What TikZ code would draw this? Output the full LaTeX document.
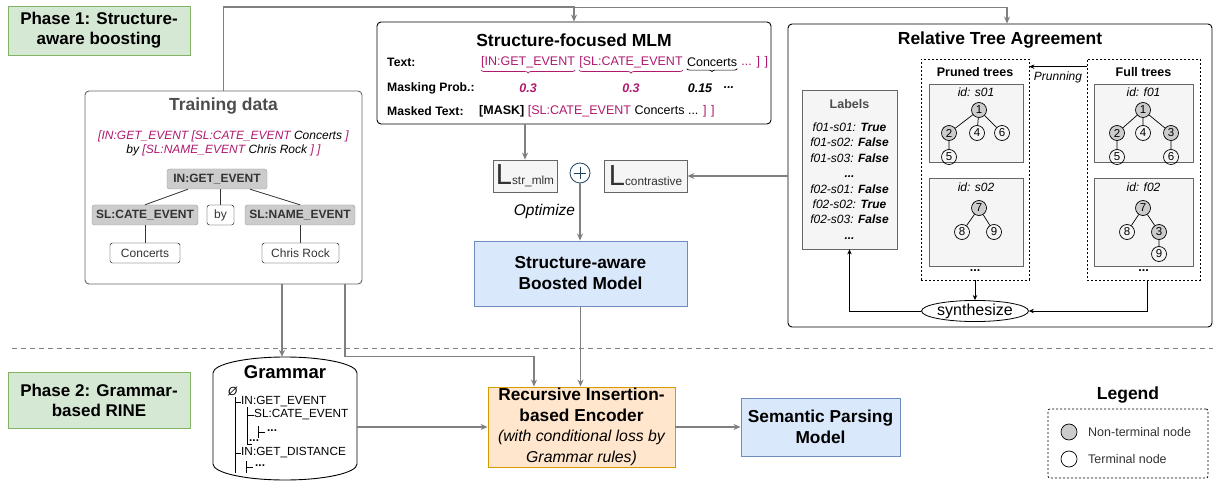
\documentclass[tikz,border=0pt]{standalone}
\usepackage{fontspec}
\setmainfont{Liberation Sans}
\usepackage{xcolor}
\usetikzlibrary{arrows.meta,positioning,shapes.geometric,decorations.pathreplacing}

\definecolor{r213g232b212}{RGB}{213,232,212}
\definecolor{r130g179b102}{RGB}{130,179,102}
\definecolor{r218g232b252}{RGB}{218,232,252}
\definecolor{r108g142b191}{RGB}{108,142,191}
\definecolor{r255g230b204}{RGB}{255,230,204}
\definecolor{r215g155b0}{RGB}{215,155,0}
\definecolor{r245g245b245}{RGB}{245,245,245}
\definecolor{r102g102b102}{RGB}{102,102,102}
\definecolor{r204g204b204}{RGB}{204,204,204}
\definecolor{r153g153b153}{RGB}{153,153,153}
\definecolor{r128g128b128}{RGB}{128,128,128}
\definecolor{r175g25b110}{RGB}{175,25,110}
\definecolor{r35g68b93}{RGB}{35,68,93}
\definecolor{r51g51b51}{RGB}{51,51,51}
\definecolor{r77g77b77}{RGB}{77,77,77}

\tikzset{
  phase/.style={draw=r130g179b102, fill=r213g232b212, line width=0.9pt, minimum width=182, minimum height=49,
    align=center, font=\fontsize{17}{20}\selectfont\bfseries},
  titlefont/.style={font=\fontsize{17.5}{20}\selectfont\bfseries},
  subtitle/.style={font=\fontsize{12.5}{14}\selectfont\bfseries},
  panel/.style={draw, rounded corners=4pt, line width=0.9pt, inner sep=0},
  greybox/.style={draw=r102g102b102, fill=r245g245b245, line width=0.8pt, inner sep=0},
  bluebox/.style={draw=r108g142b191, fill=r218g232b252, line width=0.9pt, inner sep=0, align=center,
    font=\fontsize{17.3}{21}\selectfont\bfseries},
  orangebox/.style={draw=r215g155b0, fill=r255g230b204, line width=0.9pt, inner sep=0, align=center,
    font=\fontsize{17.3}{20.5}\selectfont},
  dashbox/.style={draw, dash pattern=on 2pt off 2pt, line width=0.7pt, inner sep=0},
  tdnode/.style={draw=r153g153b153, fill=r204g204b204, rounded corners=2.5pt, minimum height=20, inner sep=2pt,
    font=\fontsize{12}{13}\selectfont\bfseries, text=r51g51b51},
  tdleaf/.style={tdnode, fill=white, draw=black, font=\fontsize{12}{13}\selectfont},
  tnode/.style={circle, draw, line width=0.7pt, minimum size=15, inner sep=0, font=\fontsize{11.5}{12}\selectfont},
  ntnode/.style={tnode, fill=r204g204b204},
  rowlabel/.style={anchor=west, inner sep=0, font=\fontsize{12.2}{14}\selectfont\bfseries},
  tok/.style={inner sep=0, font=\fontsize{12.5}{15}\selectfont},
  probval/.style={inner sep=0, font=\fontsize{12.5}{14}\selectfont\bfseries\itshape},
  idlab/.style={inner sep=0, font=\fontsize{12}{14}\selectfont\itshape},
  gramtext/.style={anchor=west, inner sep=0, font=\fontsize{11.8}{13}\selectfont},
  conn/.style={draw=r128g128b128, line width=1.2pt, -{Stealth[length=7pt,width=6pt]}},
  arr/.style={line width=0.8pt, -{Stealth[length=5pt,width=4.5pt]}},
}

\begin{document}
\begin{tikzpicture}[x=1pt,y=-1pt]
\useasboundingbox (0,0) rectangle (1213,481);

% Phase labels
\node[phase] (phaseone) at (99,30.5) {Phase 1: Structure-\\aware boosting};
\node[phase, minimum height=56] (phasetwo) at (99,400) {Phase 2: Grammar-\\based RINE};

% Drawing separator
\draw[r128g128b128, line width=1pt, dash pattern=on 5pt off 4pt] (12,348) -- (1213,348);

% Drawing box Training data
\node[panel, draw=r102g102b102, minimum width=277, minimum height=193] (traindata) at (223.5,187.5) {};
\node[titlefont, text=r77g77b77] (tdtitle) at (223.5,106) {Training data};
\node[font=\fontsize{12}{14}\selectfont\itshape, align=center] (tdtext) at (223.5,143)
  {\color{r175g25b110}[IN:GET\_EVENT [SL:CATE\_EVENT \color{black}Concerts \color{r175g25b110}]\\
   \color{black}by \color{r175g25b110}[SL:NAME\_EVENT \color{black}Chris Rock \color{r175g25b110}] ]};
\node[tdnode, minimum width=100] (ingetevent) at (217,179) {IN:GET\_EVENT};
\node[tdnode, minimum width=106] (slcate) at (145,215) {SL:CATE\_EVENT};
\node[tdleaf, minimum width=27] (bytok) at (220.5,215) {by};
\node[tdnode, minimum width=110] (slname) at (300,215) {SL:NAME\_EVENT};
\node[tdleaf, minimum width=70] (concerts) at (145,253) {Concerts};
\node[tdleaf, minimum width=77] (chrisrock) at (300.5,253) {Chris Rock};
\draw[r51g51b51, line width=0.8pt] ([xshift=-29pt]ingetevent.south) -- (slcate.north);
\draw[r51g51b51, line width=0.8pt] (ingetevent.south -| bytok.north) -- (bytok.north);
\draw[r51g51b51, line width=0.8pt] ([xshift=33pt]ingetevent.south) -- (slname.north);
\draw[r51g51b51, line width=0.8pt] (slcate.south) -- (concerts.north);
\draw[r51g51b51, line width=0.8pt] (slname.south) -- (slname.south |- chrisrock.north);

% Drawing box Structure-focused MLM
\node[panel, minimum width=394, minimum height=102] (mlm) at (574,73) {};
\node[titlefont] (mlmtitle) at (574,40) {Structure-focused MLM};
\node[rowlabel] (textlab) at (387,62) {Text:};
\node[tok, anchor=west, text=r175g25b110] (tokin) at (481,62) {[IN:GET\_EVENT};
\node[tok, right=4pt of tokin, text=r175g25b110] (tokcate) {[SL:CATE\_EVENT};
\node[tok, right=4pt of tokcate] (tokcon) {Concerts};
\node[tok, right=4pt of tokcon, text=r175g25b110] (tokdots) {... ] ]};
\draw[r175g25b110, line width=0.7pt, decorate, decoration={brace, mirror, amplitude=3pt}]
  ([yshift=-2pt]tokin.south west) -- ([yshift=-2pt]tokin.south east);
\draw[r175g25b110, line width=0.7pt, decorate, decoration={brace, mirror, amplitude=3pt}]
  ([yshift=-2pt]tokcate.south west) -- ([yshift=-2pt]tokcate.south east);
\draw[line width=0.7pt, decorate, decoration={brace, mirror, amplitude=3pt}]
  ([yshift=-2pt]tokcon.south west) -- ([yshift=-2pt]tokcon.south east);
\node[rowlabel] (problab) at (387,88) {Masking Prob.:};
\node[probval, text=r175g25b110] (probin) at (tokin |- problab) {0.3};
\node[probval, text=r175g25b110] (probcate) at (tokcate |- problab) {0.3};
\node[probval] (probcon) at (700,88) {0.15};
\node[probval] (probdots) at (729,88) {...};
\node[rowlabel] (maskedlab) at (387,111) {Masked Text:};
\node[tok, anchor=west] (maskedtok) at (479,111)
  {\bfseries [MASK]\mdseries{} \color{r175g25b110}[SL:CATE\_EVENT \color{black}Concerts ... \color{r175g25b110}] ]};

% Drawing losses
\node[greybox, minimum width=64, minimum height=32, text=r51g51b51] (lstrmlm) at (525,176)
  {\fontsize{29}{29}\selectfont L\fontsize{11.8}{12}\selectfont str\_mlm};
\node[greybox, minimum width=83, minimum height=32, text=r51g51b51] (lcontrast) at (645.5,176)
  {\fontsize{29}{29}\selectfont L\fontsize{11.8}{12}\selectfont contrastive};
\node[circle, draw=r35g68b93, line width=0.8pt, minimum size=20, inner sep=0] (plus) at (580,173) {};
\draw[r35g68b93, line width=0.8pt] ([yshift=-4pt]plus.north) -- ([yshift=4pt]plus.south);
\draw[r35g68b93, line width=0.8pt] ([xshift=4pt]plus.west) -- ([xshift=-4pt]plus.east);

% Drawing box Structure-aware Boosted Model
\node[bluebox, minimum width=213, minimum height=65] (boosted) at (580.5,273.5) {Structure-aware\\Boosted Model};

% Drawing box Relative Tree Agreement
\node[panel, minimum width=424, minimum height=303] (rta) at (1000,175.5) {};
\node[titlefont] (rtatitle) at (1000,40) {Relative Tree Agreement};

% Labels
\node[greybox, minimum width=95, minimum height=159] (labels) at (849.5,169.5) {};
\node[subtitle, text=r77g77b77] (labelstitle) at (849.5,104) {Labels};
\node[font=\fontsize{12}{15.4}\selectfont\itshape, align=center, inner sep=0] (labellist) at (849.5,181)
  {f01-s01: \textbf{True}\\ f01-s02: \textbf{False}\\ f01-s03: \textbf{False}\\ \textbf{...}\\
   f02-s01: \textbf{False}\\ f02-s02: \textbf{True}\\ f02-s03: \textbf{False}\\ \textbf{...}};

% Pruned trees
\node[dashbox, minimum width=108, minimum height=221] (pruned) at (975,169.5) {};
\node[subtitle] (prunedtitle) at (975,72) {Pruned trees};
\node[greybox, minimum width=94, minimum height=78] (trees01) at (976,123) {};
\node[idlab] (ids01) at (976,92) {id: s01};
\node[ntnode] (sa1) at (979,110) {1};
\node[ntnode] (sa2) at (949,133) {2};
\node[tnode] (sa4) at (977,133) {4};
\node[tnode] (sa6) at (1002,133) {6};
\node[tnode] (sa5) at (949,157) {5};
\draw[line width=0.7pt] (sa1) -- (sa2) (sa1) -- (sa4) (sa1) -- (sa6) (sa2) -- (sa5);
\node[greybox, minimum width=94, minimum height=88] (trees02) at (976,222) {};
\node[idlab] (ids02) at (976,187) {id: s02};
\node[ntnode] (sb7) at (979,208) {7};
\node[tnode] (sb8) at (962,232) {8};
\node[tnode] (sb9) at (994,232) {9};
\draw[line width=0.7pt] (sb7) -- (sb8) (sb7) -- (sb9);
\node[subtitle] (pruneddots) at (975,271) {...};

% Full trees
\node[dashbox, minimum width=113, minimum height=221] (full) at (1143.5,169.5) {};
\node[subtitle] (fulltitle) at (1143.5,72) {Full trees};
\node[greybox, minimum width=99, minimum height=78] (treef01) at (1143.5,123) {};
\node[idlab] (idf01) at (1143.5,92) {id: f01};
\node[ntnode] (fa1) at (1143,110) {1};
\node[ntnode] (fa2) at (1117,133) {2};
\node[tnode] (fa4) at (1143,133) {4};
\node[ntnode] (fa3) at (1171,133) {3};
\node[tnode] (fa5) at (1117,157) {5};
\node[tnode] (fa6) at (1171,157) {6};
\draw[line width=0.7pt] (fa1) -- (fa2) (fa1) -- (fa4) (fa1) -- (fa3) (fa2) -- (fa5) (fa3) -- (fa6);
\node[greybox, minimum width=99, minimum height=88] (treef02) at (1143.5,222) {};
\node[idlab] (idf02) at (1143.5,187) {id: f02};
\node[ntnode] (fb7) at (1143,208) {7};
\node[tnode] (fb8) at (1127,232) {8};
\node[ntnode] (fb3) at (1159,232) {3};
\node[tnode] (fb9) at (1159,254) {9};
\draw[line width=0.7pt] (fb7) -- (fb8) (fb7) -- (fb3) (fb3) -- (fb9);
\node[subtitle] (fulldots) at (1143.5,271) {...};

% Prunning and synthesize
\draw[arr] ([yshift=-8pt]full.north west) -- node[below=1pt, font=\fontsize{12}{13}\selectfont\itshape] (prunlab) {Prunning}
  ([yshift=-8pt]pruned.north east);
\node[ellipse, draw, line width=0.8pt, minimum width=95, minimum height=17, inner sep=0,
  font=\fontsize{16}{17}\selectfont] (synth) at (975,311) {synthesize};
\draw[arr] (pruned.south) -- (synth.north);
\draw[arr] ([xshift=3.5pt]full.south) |- (synth.east);
\draw[arr] (synth.west) -| (labels.south);

% Drawing cylinder Grammar
\node[minimum width=144, minimum height=123, inner sep=0] (grammar) at (285,418.5) {};
\draw[line width=0.9pt, fill=white] (213,373) arc[start angle=180, end angle=360, x radius=72, y radius=16]
  -- (357,464) arc[start angle=0, end angle=180, x radius=72, y radius=16] -- cycle;
\node[font=\fontsize{18.5}{20}\selectfont\bfseries] (grammartitle) at (285,372) {Grammar};
\node[gramtext, font=\fontsize{11.8}{13}\selectfont\itshape] (gempty) at (228,391) {Ø};
\draw[line width=0.8pt] (235,397) -- (235,473);
\draw[line width=0.8pt] (235,402) -- (241,402);
\node[gramtext] (ggetevent) at (241,402) {IN:GET\_EVENT};
\draw[line width=0.8pt] (247,407) -- (247,444);
\draw[line width=0.8pt] (247,415) -- (254,415);
\node[gramtext] (gcate) at (254,415) {SL:CATE\_EVENT};
\draw[line width=0.8pt] (258,426) -- (258,438) (258,432) -- (265,432);
\node[gramtext, font=\fontsize{11.8}{13}\selectfont\bfseries] (gdotsa) at (267,431) {...};
\draw[line width=0.8pt] (247,444) -- (252,444);
\node[gramtext, font=\fontsize{11.8}{13}\selectfont\bfseries] (gdotsb) at (249,441) {...};
\draw[line width=0.8pt] (235,453) -- (241,453);
\node[gramtext] (gdistance) at (241,453) {IN:GET\_DISTANCE};
\draw[line width=0.8pt] (246,461) -- (246,473) (246,467) -- (253,467);
\node[gramtext, font=\fontsize{11.8}{13}\selectfont\bfseries] (gdotsc) at (255,466) {...};

% Drawing box Recursive Insertion-based Encoder
\node[orangebox, minimum width=187, minimum height=80] (encoder) at (581.5,427)
  {\bfseries Recursive Insertion-\\\bfseries based Encoder\\
   \fontsize{15.8}{20}\selectfont\itshape (with conditional loss by\\\fontsize{15.8}{20}\selectfont\itshape Grammar rules)};
\node[bluebox, minimum width=159, minimum height=58] (semantic) at (820.5,427) {Semantic Parsing\\Model};

% Drawing connectors
\draw[conn] (traindata.north) -- ++(0,-84) -| (mlm.north);
\draw[conn] (traindata.north) -- ++(0,-83) -| ([xshift=7pt]rta.north);
\draw[conn] (mlm.south -| lstrmlm.north) -- (lstrmlm.north);
\draw[conn] (rta.west |- lcontrast.east) -- (lcontrast.east);
\draw[conn] (plus.south) -- node[left=1pt, font=\fontsize{15.5}{17}\selectfont\itshape] (optlab) {Optimize} (plus.south |- boosted.north);
\draw[conn] ([xshift=58.5pt]traindata.south) -- ([xshift=58.5pt]traindata.south |- grammar.north);
\draw[conn] ([xshift=121.5pt]traindata.south) -- ++(0,72) -| ([xshift=-47.5pt]encoder.north);
\draw[conn] (boosted.south) -- (boosted.south |- encoder.north);
\draw[conn] (grammar.east |- encoder.west) -- (encoder.west);
\draw[conn] (encoder.east) -- (semantic.west);

% Legend
\node[titlefont] (legendtitle) at (1128,395) {Legend};
\node[dashbox, rounded corners=2pt, minimum width=160, minimum height=69] (legend) at (1128,443.5) {};
\node[ntnode, minimum size=16] (legnt) at (1069,432) {};
\node[tnode, minimum size=16] (legt) at (1069,459) {};
\node[anchor=west, inner sep=0, font=\fontsize{12.5}{14}\selectfont, text=r51g51b51] (legntlab) at (1088,432) {Non-terminal node};
\node[anchor=west, inner sep=0, font=\fontsize{12.5}{14}\selectfont, text=r51g51b51] (legtlab) at (1088,459) {Terminal node};
\end{tikzpicture}
\end{document}
